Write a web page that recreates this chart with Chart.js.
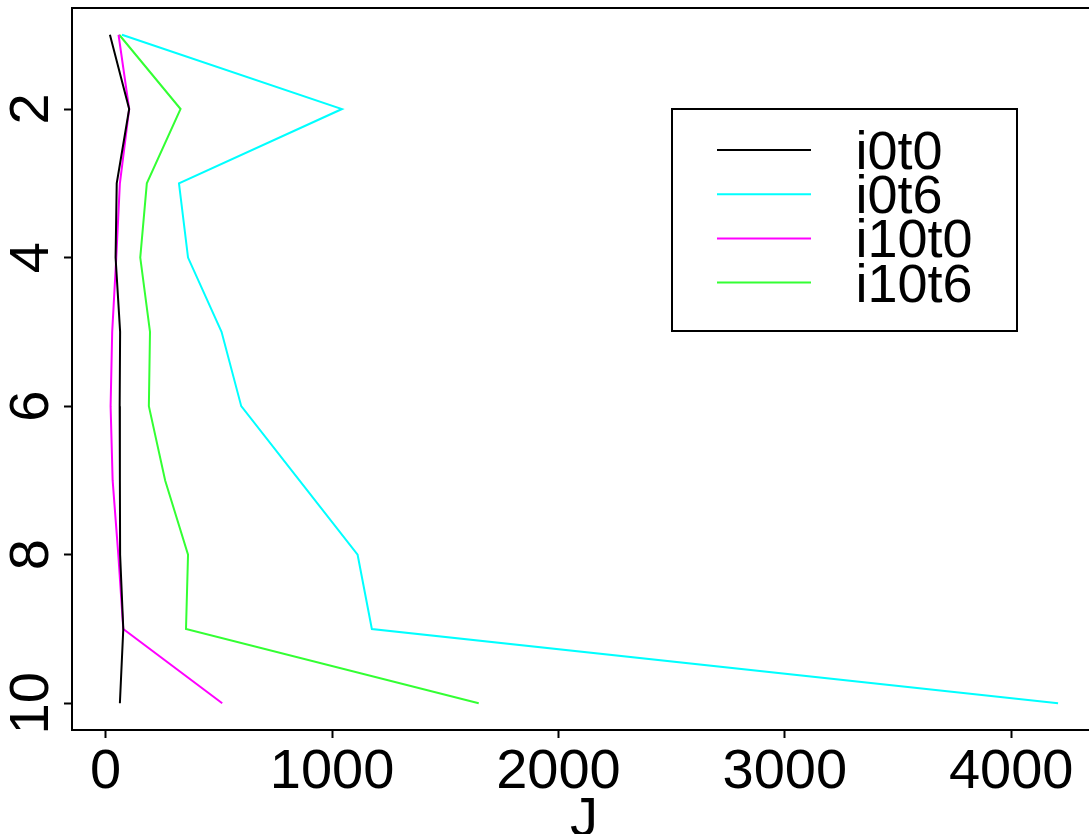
<!DOCTYPE html>
<html><head><meta charset="utf-8">
<script src="https://cdn.jsdelivr.net/npm/chart.js@4.4.0/dist/chart.umd.min.js"></script>
<style>
html,body{margin:0;padding:0;overflow:hidden;background:#fff}
#wrap{width:1100px;height:834px;position:relative}
</style>
</head><body><div id="wrap"><canvas id="c"></canvas></div>
<script>
// ---- data ----
const levels = [1, 2, 3, 4, 5, 6, 7, 8, 9, 10];
const i0t0  = [19, 104, 49, 44, 64, 62, 63, 64, 78, 63];
const i0t6  = [72, 1044, 324, 364, 512, 599, 856, 1113, 1176, 4207];
const i10t0 = [57, 104, 63, 47, 29, 22, 31, 56, 78, 515];
const i10t6 = [60, 331, 182, 153, 196, 191, 263, 364, 355, 1648];
const seriesNames  = ['i0t0', 'i0t6', 'i10t0', 'i10t6'];
const seriesValues = [i0t0, i0t6, i10t0, i10t6];
const seriesColors = ['#000000', '#00FFFF', '#FF00FF', '#33FF33'];
const xTicks = [0, 1000, 2000, 3000, 4000];
const yTicks = [2, 4, 6, 8, 10];
const xTitle = 'J';

// R-style 4% axis extension
const allX = [].concat(...seriesValues);
const xlo = Math.min(...allX), xhi = Math.max(...allX);
const xMin = xlo - 0.04 * (xhi - xlo), xMax = xhi + 0.04 * (xhi - xlo);
const ylo = Math.min(...levels), yhi = Math.max(...levels);
const yMin = ylo - 0.04 * (yhi - ylo), yMax = yhi + 0.04 * (yhi - ylo);

const FONT = '"Liberation Sans", Arial, Helvetica, sans-serif';

const datasets = seriesNames.map((name, k) => ({
  label: name,
  data: levels.map((lv, i) => ({x: seriesValues[k][i], y: lv})),
  borderColor: seriesColors[k],
  backgroundColor: seriesColors[k],
  showLine: true,
  borderWidth: 2,
  pointRadius: 0,
  tension: 0,
  fill: false
}));

const framePlugin = {
  id: 'frame',
  afterDraw(chart) {
    const {ctx, chartArea: a} = chart;
    ctx.save();
    ctx.strokeStyle = '#000';
    ctx.lineWidth = 2;
    ctx.strokeRect(a.left, a.top, a.right - a.left, a.bottom - a.top);
    ctx.restore();
  }
};

const legendPlugin = {
  id: 'rlegend',
  afterDraw(chart) {
    const ctx = chart.ctx;
    ctx.save();
    ctx.strokeStyle = '#000';
    ctx.lineWidth = 2;
    ctx.strokeRect(672, 109, 345, 222);
    ctx.font = '54px ' + FONT;
    ctx.textAlign = 'left';
    ctx.textBaseline = 'alphabetic';
    chart.data.datasets.forEach((ds, i) => {
      const y = 150 + 44.2 * i;
      ctx.strokeStyle = ds.borderColor;
      ctx.lineWidth = 2;
      ctx.beginPath();
      ctx.moveTo(717, y);
      ctx.lineTo(811, y);
      ctx.stroke();
      ctx.fillStyle = '#000';
      ctx.fillText(ds.label, 855.5, y + 19);
    });
    ctx.restore();
  }
};

new Chart(document.getElementById('c'), {
  type: 'scatter',
  data: {datasets},
  plugins: [framePlugin, legendPlugin],
  options: {
    responsive: true,
    maintainAspectRatio: false,
    animation: false,
    layout: {padding: {left: 0, top: 8, right: 4, bottom: 0}},
    plugins: {legend: {display: false}, tooltip: {enabled: false}, title: {display: false}},
    scales: {
      x: {
        type: 'linear', position: 'bottom', min: xMin, max: xMax,
        afterBuildTicks: s => { s.ticks = xTicks.map(v => ({value: v})); },
        afterFit: s => { s.height = 104; s.paddingLeft = 0; s.paddingRight = 0; },
        grid: {drawOnChartArea: false, drawTicks: true, tickLength: 8, tickWidth: 2, tickColor: '#000'},
        border: {display: true, color: '#000', width: 2},
        ticks: {autoSkip: false, minRotation: 0, maxRotation: 0, padding: 1, color: '#000',
                callback: v => String(v),
                font: {family: FONT, size: 56}},
        title: {display: true, text: xTitle, color: '#000', padding: 0,
                font: {family: FONT, size: 56, lineHeight: 0.4643}}
      },
      y: {
        type: 'linear', position: 'left', reverse: true, min: yMin, max: yMax,
        afterBuildTicks: s => { s.ticks = yTicks.map(v => ({value: v})); },
        afterFit: s => { s.width = 72; s.paddingTop = 0; s.paddingBottom = 0; },
        grid: {drawOnChartArea: false, drawTicks: true, tickLength: 8, tickWidth: 2, tickColor: '#000'},
        border: {display: true, color: '#000', width: 2},
        ticks: {autoSkip: false, minRotation: 90, maxRotation: 90, crossAlign: 'center', padding: 0,
                callback: v => String(v),
                color: '#000', font: {family: FONT, size: 56}}
      }
    }
  }
});
</script>
</body></html>
